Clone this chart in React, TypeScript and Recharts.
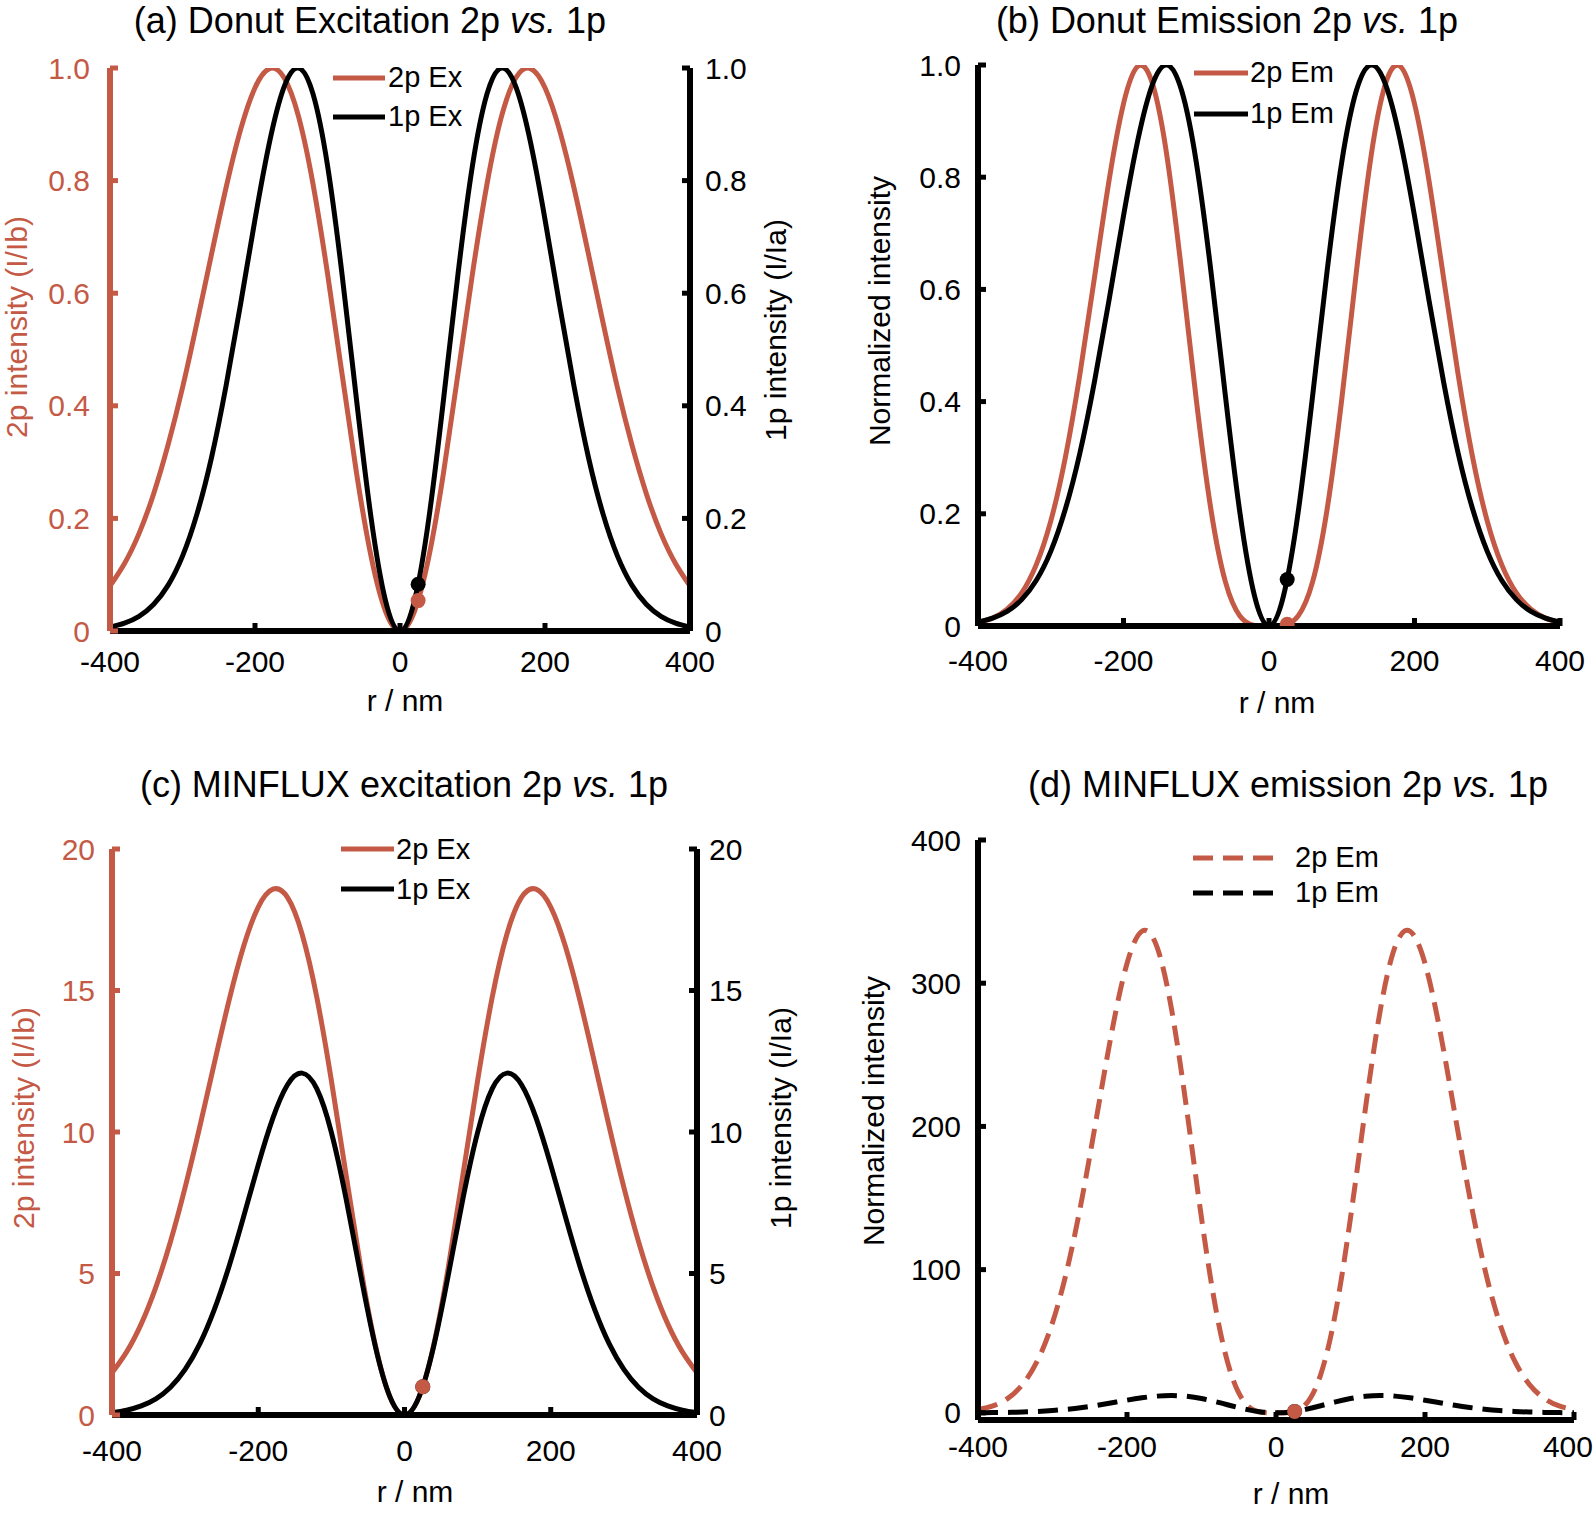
import React from "react";
import { ComposedChart, Line, Scatter, XAxis, YAxis, Legend } from "recharts";

const RED = "#c45a45";
const BLACK = "#000000";
const FONT = '"Liberation Sans", Arial, Helvetica, sans-serif';

// radial position (nm)
const rNm = [
  -400, -380, -360, -340, -320, -300, -280, -260, -240, -220, -200, -180, -160, -140, -120, -100, -80, -60, -40, -20,
  0, 20, 40, 60, 80, 100, 120, 140, 160, 180, 200, 220, 240, 260, 280, 300, 320, 340, 360, 380, 400,
];

// (a) donut excitation, 2p (normalized)
const donut2pEx = [
  0.080, 0.120, 0.173, 0.243, 0.330, 0.432, 0.548, 0.669, 0.787, 0.890, 0.965, 0.999, 0.983, 0.914, 0.794, 0.635, 0.457, 0.281, 0.133, 0.035,
  0, 0.035, 0.133, 0.281, 0.457, 0.635, 0.794, 0.914, 0.983, 0.999, 0.965, 0.890, 0.787, 0.669, 0.548, 0.432, 0.330, 0.243, 0.173, 0.120, 0.080,
];

// (a)/(b) donut 1p excitation = 1p emission (normalized)
const donut1p = [
  0.007, 0.014, 0.026, 0.047, 0.081, 0.133, 0.208, 0.308, 0.435, 0.580, 0.731, 0.868, 0.966, 1.000, 0.954, 0.827, 0.634, 0.411, 0.202, 0.054,
  0, 0.054, 0.202, 0.411, 0.634, 0.827, 0.954, 1.000, 0.966, 0.868, 0.731, 0.580, 0.435, 0.308, 0.208, 0.133, 0.081, 0.047, 0.026, 0.014, 0.007,
];

// (b) donut emission, 2p
const donut2pEm = [
  0.006, 0.014, 0.030, 0.059, 0.109, 0.187, 0.300, 0.448, 0.620, 0.793, 0.931, 0.998, 0.966, 0.835, 0.630, 0.404, 0.209, 0.079, 0.018, 0.001,
  0, 0.001, 0.018, 0.079, 0.209, 0.404, 0.630, 0.835, 0.966, 0.998, 0.931, 0.793, 0.620, 0.448, 0.300, 0.187, 0.109, 0.059, 0.030, 0.014, 0.006,
];

// (c) MINFLUX excitation, 2p (I/Ib)
const minflux2pEx = [
  1.49, 2.23, 3.22, 4.52, 6.13, 8.04, 10.18, 12.44, 14.64, 16.56, 17.95, 18.58, 18.29, 16.99, 14.77, 11.82, 8.50, 5.23, 2.48, 0.64,
  0, 0.64, 2.48, 5.23, 8.50, 11.82, 14.77, 16.99, 18.29, 18.58, 17.95, 16.56, 14.64, 12.44, 10.18, 8.04, 6.13, 4.52, 3.22, 2.23, 1.49,
];

// (c)/(d) MINFLUX 1p excitation = 1p emission (I/Ia)
const minflux1p = [
  0.08, 0.17, 0.32, 0.57, 0.98, 1.61, 2.51, 3.73, 5.25, 7.01, 8.84, 10.49, 11.67, 12.08, 11.53, 9.99, 7.66, 4.96, 2.44, 0.65,
  0, 0.65, 2.44, 4.96, 7.66, 9.99, 11.53, 12.08, 11.67, 10.49, 8.84, 7.01, 5.25, 3.73, 2.51, 1.61, 0.98, 0.57, 0.32, 0.17, 0.08,
];

// (d) MINFLUX emission, 2p
const minflux2pEm = [
  2.2, 4.8, 10.1, 19.9, 36.6, 63.0, 101.0, 150.8, 208.9, 267.1, 313.8, 336.3, 325.7, 281.2, 212.4, 136.1, 70.3, 26.7, 6.0, 0.4,
  0, 0.4, 6.0, 26.7, 70.3, 136.1, 212.4, 281.2, 325.7, 336.3, 313.8, 267.1, 208.9, 150.8, 101.0, 63.0, 36.6, 19.9, 10.1, 4.8, 2.2,
];

// probe position and the marked values there
const probeR = 25;
const dotsDonutEx = [0.083, 0.054]; // 1p, 2p
const dotsDonutEm = [0.083, 0.003]; // 1p, 2p
const dotsMinfluxEx = [1.0, 1.0];
const dotsMinfluxEm = [1.0, 1.0];

const xTicks = [-400, -200, 0, 200, 400];
const unitTicks = [0, 0.2, 0.4, 0.6, 0.8, 1.0];
const exTicks = [0, 5, 10, 15, 20];
const emTicks = [0, 100, 200, 300, 400];

const titles = [
  { text: "(a) Donut Excitation 2p", x: 370, y: 33 },
  { text: "(b) Donut Emission 2p", x: 1227, y: 33 },
  { text: "(c) MINFLUX excitation 2p", x: 404, y: 797 },
  { text: "(d) MINFLUX emission 2p", x: 1288, y: 797 },
];

const rows = rNm.map((r, i) => ({
  r,
  ex2p: donut2pEx[i],
  d1p: donut1p[i],
  em2p: donut2pEm[i],
  mfEx2p: minflux2pEx[i],
  mf1p: minflux1p[i],
  mfEm2p: minflux2pEm[i],
}));

const fmtUnit = (v: number) => (v === 0 ? "0" : v.toFixed(1));
const fmtInt = (v: number) => String(v);

const CURVE_W = 5;
const AXIS_W = 6;

type AxisCfg = {
  width: number;
  color: string;
  domain: [number, number];
  ticks: number[];
  tickMargin: number;
  format: (v: number) => string;
};
type SeriesCfg = { key: string; label: string; color: string; side: string; dashed?: boolean };
type DotCfg = { value: number; color: string; side: string };
type LegendCfg = { x: number; y: number; rowH: number; lineLen: number; gap: number };
type PanelCfg = {
  x: number;
  y: number;
  width: number;
  height: number;
  marginTop: number;
  marginRight: number;
  xTickMargin: number;
  left: AxisCfg;
  right?: AxisCfg;
  series: SeriesCfg[];
  dots: DotCfg[];
  legend: LegendCfg;
};

const LegendBox = ({ cfg, series }: { cfg: LegendCfg; series: SeriesCfg[] }) => (
  <div style={{ fontFamily: FONT }}>
    {series.map((s) => (
      <div key={s.key} style={{ display: "flex", alignItems: "center", height: cfg.rowH }}>
        <svg width={cfg.lineLen} height={8} style={{ display: "block" }}>
          <line
            x1={0}
            y1={4}
            x2={cfg.lineLen}
            y2={4}
            stroke={s.color}
            strokeWidth={CURVE_W}
            strokeDasharray={s.dashed ? "20 10" : undefined}
          />
        </svg>
        <span style={{ marginLeft: cfg.gap, fontSize: 29, lineHeight: 1, color: BLACK, whiteSpace: "nowrap" }}>
          {s.label}
        </span>
      </div>
    ))}
  </div>
);

// bottom tick label that stays inside the chart's right edge
const makeXTick = (chartWidth: number) => (props: any) => {
  const { x, y, payload } = props;
  const label = fmtInt(payload.value);
  const half = label.length * 8.5;
  const overflow = x + half > chartWidth - 1;
  return (
    <text
      x={overflow ? chartWidth - 1 : x}
      y={y}
      dy="0.71em"
      textAnchor={overflow ? "end" : "middle"}
      fontSize={30}
      fill={BLACK}
    >
      {label}
    </text>
  );
};

const yAxisProps = (a: AxisCfg) => ({
  width: a.width,
  domain: a.domain,
  ticks: a.ticks,
  interval: 0 as const,
  allowDataOverflow: true,
  tickSize: -8,
  tickMargin: a.tickMargin,
  tickFormatter: a.format,
  axisLine: { stroke: a.color, strokeWidth: AXIS_W },
  tickLine: { stroke: a.color, strokeWidth: 5 },
  tick: { fill: a.color, fontSize: 30 },
});

const Panel = ({ cfg }: { cfg: PanelCfg }) => (
  <div style={{ position: "absolute", left: cfg.x, top: cfg.y }}>
    <ComposedChart
      width={cfg.width}
      height={cfg.height}
      data={rows}
      margin={{ top: cfg.marginTop, right: cfg.marginRight, bottom: 0, left: 0 }}
    >
      <XAxis
        type="number"
        dataKey="r"
        domain={[-400, 400]}
        ticks={xTicks}
        interval={0}
        height={60}
        allowDataOverflow
        tickSize={-8}
        tickMargin={cfg.xTickMargin}
        axisLine={{ stroke: BLACK, strokeWidth: AXIS_W }}
        tickLine={{ stroke: BLACK, strokeWidth: 5 }}
        tick={makeXTick(cfg.width)}
      />
      <YAxis yAxisId="left" orientation="left" {...yAxisProps(cfg.left)} />
      {cfg.right && <YAxis yAxisId="right" orientation="right" {...yAxisProps(cfg.right)} />}
      {cfg.series.map((s) => (
        <Line
          key={s.key}
          yAxisId={s.side}
          type="natural"
          dataKey={s.key}
          name={s.label}
          stroke={s.color}
          strokeWidth={CURVE_W}
          strokeDasharray={s.dashed ? "20 10" : undefined}
          dot={false}
          activeDot={false}
          isAnimationActive={false}
        />
      ))}
      {cfg.dots.map((d, i) => (
        <Scatter
          key={`dot-${i}`}
          yAxisId={d.side}
          data={[{ r: probeR, v: d.value }]}
          dataKey="v"
          fill={d.color}
          isAnimationActive={false}
          shape={(p: any) => <circle cx={p.cx} cy={p.cy} r={7.5} fill={d.color} />}
        />
      ))}
      <Legend
        layout="vertical"
        align="center"
        verticalAlign="middle"
        wrapperStyle={{ left: cfg.legend.x, top: cfg.legend.y, width: 220 }}
        content={() => <LegendBox cfg={cfg.legend} series={cfg.series} />}
      />
    </ComposedChart>
  </div>
);

const panels: PanelCfg[] = [
  {
    x: 0,
    y: 0,
    width: 800,
    height: 691,
    marginTop: 68,
    marginRight: 0,
    xTickMargin: 28,
    left: { width: 110, color: RED, domain: [0, 1], ticks: unitTicks, tickMargin: 28, format: fmtUnit },
    right: { width: 110, color: BLACK, domain: [0, 1], ticks: unitTicks, tickMargin: 23, format: fmtUnit },
    series: [
      { key: "ex2p", label: "2p Ex", color: RED, side: "left" },
      { key: "d1p", label: "1p Ex", color: BLACK, side: "right" },
    ],
    dots: [
      { value: dotsDonutEx[0], color: BLACK, side: "right" },
      { value: dotsDonutEx[1], color: RED, side: "left" },
    ],
    legend: { x: 333, y: 58, rowH: 39, lineLen: 52, gap: 3 },
  },
  {
    x: 868,
    y: 0,
    width: 722,
    height: 686,
    marginTop: 65,
    marginRight: 30,
    xTickMargin: 32,
    left: { width: 110, color: BLACK, domain: [0, 1], ticks: unitTicks, tickMargin: 25, format: fmtUnit },
    series: [
      { key: "em2p", label: "2p Em", color: RED, side: "left" },
      { key: "d1p", label: "1p Em", color: BLACK, side: "left" },
    ],
    dots: [
      { value: dotsDonutEm[0], color: BLACK, side: "left" },
      { value: dotsDonutEm[1], color: RED, side: "left" },
    ],
    legend: { x: 326, y: 52, rowH: 41, lineLen: 54, gap: 2 },
  },
  {
    x: 0,
    y: 760,
    width: 807,
    height: 715,
    marginTop: 89,
    marginRight: 0,
    xTickMargin: 33,
    left: { width: 112, color: RED, domain: [0, 20], ticks: exTicks, tickMargin: 25, format: fmtInt },
    right: { width: 110, color: BLACK, domain: [0, 20], ticks: exTicks, tickMargin: 20, format: fmtInt },
    series: [
      { key: "mfEx2p", label: "2p Ex", color: RED, side: "left" },
      { key: "mf1p", label: "1p Ex", color: BLACK, side: "right" },
    ],
    dots: [
      { value: dotsMinfluxEx[0], color: BLACK, side: "right" },
      { value: dotsMinfluxEx[1], color: RED, side: "left" },
    ],
    legend: { x: 341, y: 69, rowH: 40, lineLen: 53, gap: 2 },
  },
  {
    x: 868,
    y: 760,
    width: 726,
    height: 720,
    marginTop: 80,
    marginRight: 20,
    xTickMargin: 24,
    left: { width: 110, color: BLACK, domain: [-5, 400], ticks: emTicks, tickMargin: 25, format: fmtInt },
    series: [
      { key: "mfEm2p", label: "2p Em", color: RED, side: "left", dashed: true },
      { key: "mf1p", label: "1p Em", color: BLACK, side: "left", dashed: true },
    ],
    dots: [
      { value: dotsMinfluxEm[0], color: BLACK, side: "left" },
      { value: dotsMinfluxEm[1], color: RED, side: "left" },
    ],
    legend: { x: 325, y: 80, rowH: 35, lineLen: 80, gap: 22 },
  },
];

const yLabels = [
  { text: "2p intensity (I/Ib)", x: 27, y: 327, color: RED },
  { text: "1p intensity (I/Ia)", x: 786, y: 330, color: BLACK },
  { text: "Normalized intensity", x: 890, y: 311, color: BLACK },
  { text: "2p intensity (I/Ib)", x: 34, y: 1118, color: RED },
  { text: "1p intensity (I/Ia)", x: 791, y: 1118, color: BLACK },
  { text: "Normalized intensity", x: 884, y: 1111, color: BLACK },
];

const xLabels = [
  { x: 405, y: 711 },
  { x: 1277, y: 713 },
  { x: 415, y: 1502 },
  { x: 1291, y: 1504 },
];

export default function App() {
  return (
    <div
      style={{
        position: "absolute",
        left: 0,
        top: 0,
        width: 1594,
        height: 1516,
        background: "#ffffff",
        fontFamily: FONT,
        overflow: "hidden",
      }}
    >
      {panels.map((p, i) => (
        <Panel key={i} cfg={p} />
      ))}
      <svg
        width={1594}
        height={1516}
        style={{ position: "absolute", left: 0, top: 0, pointerEvents: "none" }}
        fontFamily={FONT}
      >
        {titles.map((t) => (
          <text key={t.text} x={t.x} y={t.y} textAnchor="middle" fontSize={36} fill={BLACK}>
            {t.text}{" "}
            <tspan fontStyle="italic">vs.</tspan>
            {" "}1p
          </text>
        ))}
        {yLabels.map((l, i) => (
          <text
            key={i}
            x={l.x}
            y={l.y}
            transform={`rotate(-90 ${l.x} ${l.y})`}
            textAnchor="middle"
            fontSize={30}
            fill={l.color}
          >
            {l.text}
          </text>
        ))}
        {xLabels.map((l, i) => (
          <text key={i} x={l.x} y={l.y} textAnchor="middle" fontSize={30} fill={BLACK}>
            r / nm
          </text>
        ))}
      </svg>
    </div>
  );
}
